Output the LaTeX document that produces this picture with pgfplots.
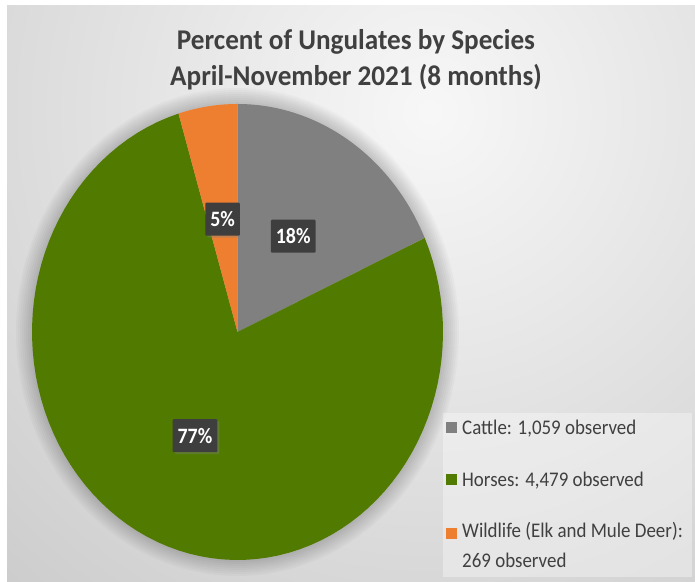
\documentclass[border=0pt]{standalone}
\usepackage{pgfplots}
\pgfplotsset{compat=1.18}
\usepackage{pgfplotstable}
\usepackage{fontspec}
\setmainfont{Carlito}
\usetikzlibrary{shadows}

\definecolor{cattle}{RGB}{128,128,128}
\definecolor{horses}{RGB}{80,122,0}
\definecolor{wild}{RGB}{238,127,49}
\definecolor{txt}{RGB}{64,64,64}
\definecolor{lblbox}{RGB}{62,62,62}

% observed counts, April-November 2021
\pgfplotstableread{
species count
Cattle 1059
Horses 4479
Wildlife 269
}\counts

\begin{document}
\begin{tikzpicture}[
    lbl/.style={fill=lblbox, text=white, font=\fontsize{20}{24}\selectfont\bfseries,
      yscale=1.1, transform shape,
      inner xsep=5bp, inner ysep=0bp, minimum height=30bp, rounded corners=1bp,
      drop shadow={opacity=0.35, shadow xshift=2bp, shadow yshift=-2bp}}]
\pgfplotstablegetelem{0}{count}\of\counts \edef\nC{\pgfplotsretval}
\pgfplotstablegetelem{1}{count}\of\counts \edef\nH{\pgfplotsretval}
\pgfplotstablegetelem{2}{count}\of\counts \edef\nW{\pgfplotsretval}
\pgfmathsetmacro\tot{\nC+\nH+\nW}
% slices run clockwise from 12 o'clock
\pgfmathsetmacro\aC{90-360*(\nC/\tot)}
\pgfmathsetmacro\aH{\aC-360*(\nH/\tot)}
\pgfmathsetmacro\mC{(90+\aC)/2}
\pgfmathsetmacro\mH{(\aC+\aH)/2}
\pgfmathsetmacro\mW{(\aH-270)/2}
\begin{scope}[x=1bp,y=1bp]
% background
\fill[white] (0,0) rectangle (695,582);
\begin{scope}
  \clip (7,0) rectangle (695,576);
  \shade[inner color=black!3, outer color=black!22] (430,470) circle (720);
\end{scope}
% soft glow round the pie
\foreach \k in {1,...,8}
  \fill[black, opacity=0.025] (237.5,250) ellipse ({205.5+2*\k} and {228+2*\k});
\end{scope}

\begin{axis}[at={(237.5bp,250bp)}, anchor=center, scale only axis,
    width=411bp, height=456bp, xmin=-1, xmax=1, ymin=-1, ymax=1,
    hide axis, clip=false, samples=90, variable=\t]
\addplot[draw=none, fill=cattle, domain=\aC:90] ({cos(\t)},{sin(\t)}) -- (axis cs:0,0) -- cycle;
\addplot[draw=none, fill=horses, domain=\aH:\aC] ({cos(\t)},{sin(\t)}) -- (axis cs:0,0) -- cycle;
\addplot[draw=none, fill=wild, domain=-270:\aH] ({cos(\t)},{sin(\t)}) -- (axis cs:0,0) -- cycle;
\node[lbl] at (axis cs:{0.5*cos(\mC)},{0.5*sin(\mC)}) {18\%};
\node[lbl] at (axis cs:{0.5*cos(\mH)},{0.5*sin(\mH)}) {77\%};
\node[lbl] at (axis cs:{0.5*cos(\mW)},{0.5*sin(\mW)}) {5\%};
\end{axis}

\begin{scope}[x=1bp,y=1bp]
% title
\begin{scope}[every node/.style={anchor=base, text=txt, font=\fontsize{27.3}{32}\selectfont\bfseries, yscale=1.05, transform shape}]
  \node at (356,532) {Percent of Ungulates by Species};
  \node at (356,496) {April-November 2021 (8 months)};
\end{scope}

% legend
\fill[white, opacity=0.35] (443,5) rectangle (692,169);
\begin{scope}[every node/.style={anchor=base west, text=txt, font=\fontsize{19}{23}\selectfont, inner sep=0pt, yscale=1.1, transform shape}]
  \fill[cattle] (446,149) rectangle (457,160);
  \node at (462,147) {Cattle: 1,059 observed};
  \fill[horses] (446,97) rectangle (457,108);
  \node at (462,95) {Horses: 4,479 observed};
  \fill[wild] (446,43) rectangle (457,54);
  \node at (462,44) {Wildlife (Elk and Mule Deer):};
  \node at (462,14) {269 observed};
\end{scope}
\pgfresetboundingbox
\useasboundingbox (0,0) rectangle (695,582);
\end{scope}
\end{tikzpicture}
\end{document}
